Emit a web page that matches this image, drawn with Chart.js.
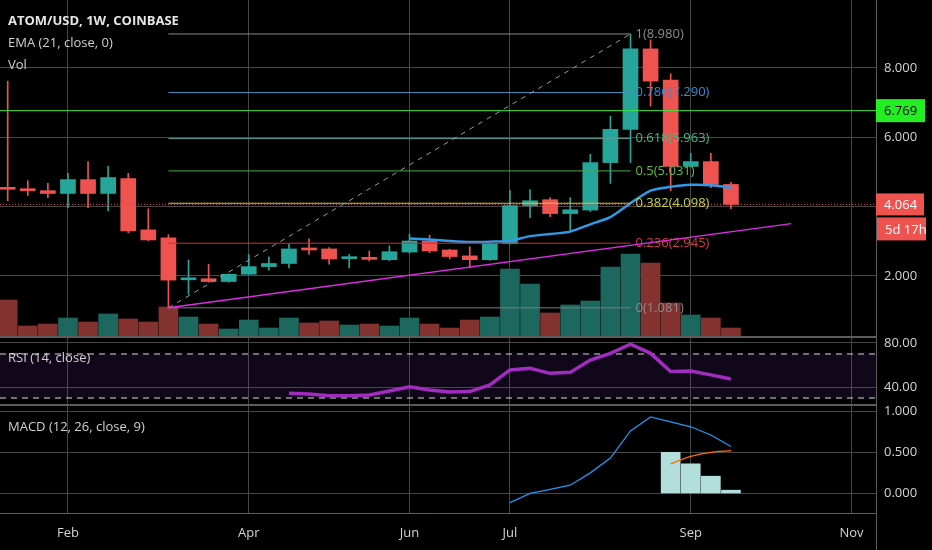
<!DOCTYPE html>
<html>
<head>
<meta charset="utf-8">
<script src="https://cdn.jsdelivr.net/npm/chart.js@4.4.1/dist/chart.umd.min.js"></script>
<style>
  html, body { margin: 0; background: #000; }
  body { width: 932px; height: 550px; position: relative; overflow: hidden; }
  .pane { position: absolute; left: 0; width: 932px; }
</style>
</head>
<body>
<div class="pane" style="top:0;height:337px"><canvas id="priceChart"></canvas></div>
<div class="pane" style="top:337px;height:68px"><canvas id="rsiChart"></canvas></div>
<div class="pane" style="top:405px;height:145px"><canvas id="macdChart"></canvas></div>
<script>
// weekly candles, index 0 = first week on screen
const open  = [4.55, 4.50, 4.46, 4.38, 4.78, 4.38, 4.81, 3.33, 3.10, 1.89, 1.92, 1.84, 2.05, 2.27, 2.36, 2.80, 2.78, 2.50, 2.53,
               2.47, 2.69, 3.01, 2.75, 2.58, 2.47, 2.93, 4.03, 4.20, 3.80, 3.90, 5.27, 6.23, 8.55, 7.65, 5.16, 5.30, 4.64];
const high  = [7.62, 4.75, 4.67, 4.96, 5.30, 5.16, 4.96, 3.94, 3.19, 2.46, 2.34, 2.06, 2.62, 2.55, 2.93, 3.07, 2.82, 2.62, 2.72,
               2.87, 3.21, 3.18, 2.77, 2.84, 2.95, 4.46, 4.49, 4.26, 4.26, 5.51, 6.61, 8.98, 8.81, 7.83, 5.54, 5.54, 4.70];
const low   = [4.17, 4.32, 4.26, 3.97, 3.97, 3.88, 3.25, 3.02, 1.081, 1.47, 1.82, 1.82, 2.04, 2.17, 2.23, 2.62, 2.34, 2.23, 2.43,
               2.44, 2.66, 2.67, 2.49, 2.23, 2.45, 2.92, 3.68, 3.71, 3.30, 3.86, 4.67, 5.27, 6.90, 4.46, 5.14, 4.55, 3.94];
const close = [4.50, 4.46, 4.38, 4.78, 4.38, 4.84, 3.30, 3.04, 1.88, 1.93, 1.84, 2.05, 2.27, 2.36, 2.78, 2.75, 2.49, 2.53, 2.48,
               2.70, 3.01, 2.72, 2.56, 2.47, 2.93, 4.03, 4.17, 3.80, 3.91, 5.27, 6.23, 8.55, 7.62, 5.16, 5.30, 4.64, 4.064];
// volume, relative units (no scale shown)
const volume = [370, 110, 130, 190, 150, 230, 180, 150, 300, 200, 130, 80, 170, 90, 190, 140, 160, 120, 130,
                110, 190, 130, 90, 170, 200, 680, 530, 240, 320, 360, 700, 830, 740, 340, 220, 190, 90];

const emaStart = 20;
const ema21 = [3.08, 3.05, 3.01, 2.98, 2.99, 3.01, 3.15, 3.21, 3.28, 3.49, 3.70, 4.10, 4.46, 4.57, 4.63, 4.62, 4.55];

const rsiStart = 14;
const rsi14 = [34.3, 33.6, 32.1, 32.0, 32.7, 36.4, 40.3, 37.3, 35.5, 35.8, 41.8, 55.5, 57.0, 52.4, 53.3, 64.5,
               70.6, 79.0, 70.6, 54.0, 54.5, 51.0, 47.3];

const macdStart = 25;
const macdLine = [-0.11, 0.00, 0.05, 0.10, 0.25, 0.43, 0.76, 0.93, 0.87, 0.81, 0.71, 0.57];
const signalStart = 33;
const signalLine = [0.36, 0.45, 0.50, 0.52];
const histStart = 33;
const histogram = [0.50, 0.36, 0.21, 0.04];

const monthTicks  = [3, 12, 20, 25, 34, 42];
const monthLabels = ['Feb', 'Apr', 'Jun', 'Jul', 'Sep', 'Nov'];

const priceTicks = [2, 4, 6, 8];
const rsiTicks = [40, 80];
const macdTicks = [0, 0.5, 1];

// fib retracement from the March low to the August high
const fibFrom = 8, fibTo = 31;
const fibLevels = ['0', '0.236', '0.382', '0.5', '0.618', '0.786', '1'];
const fibPrices = [1.081, 2.945, 4.098, 5.031, 5.963, 7.290, 8.980];
const trendFrom = [8, 1.081], trendTo = [39, 3.51];
const alertPrice = 6.769;
const lastPrice = 4.064;
const countdown = '5d 17h';

const UP = '#26a69a', DOWN = '#ef5350';
const GRID = '#464646', SEP = '#5c5c5c', TEXT = '#d4d4d4';
const FONT = "'Open Sans', 'Noto Sans', sans-serif";
const fibLineColors  = ['#7c7c7c', '#c83232', '#c8cc2a', '#46ad4a', '#5f9c98', '#4d8ec0', '#8a8a8a'];
const fibLabelColors = ['#8c8c8c', '#d93b3b', '#c4d43c', '#5cc040', '#3bbf8c', '#2f8ed8', '#8c8c8c'];

const X_MIN = -0.383, X_MAX = 43.22;
const isUp = close.map((c, i) => c >= open[i]);

function xScale(showLabels) {
  return {
    type: 'linear', min: X_MIN, max: X_MAX, offset: false,
    grid: { color: GRID, drawTicks: false, offset: false },
    border: { display: showLabels, color: SEP },
    ticks: {
      display: showLabels, color: TEXT, padding: 12, maxRotation: 0, autoSkip: false,
      font: { family: FONT, size: 13 },
      callback: v => monthLabels[monthTicks.indexOf(v)] || ''
    },
    afterBuildTicks: s => { s.ticks = monthTicks.map(v => ({ value: v })); },
    afterFit: s => { s.height = showLabels ? 37 : 0; s.paddingLeft = 0; s.paddingRight = 0; }
  };
}

function yScale(min, max, ticks, digits) {
  return {
    position: 'right', min, max,
    grid: { color: GRID, drawTicks: false },
    border: { color: SEP },
    ticks: { color: TEXT, padding: 8, font: { family: FONT, size: 13 }, callback: v => v.toFixed(digits) },
    afterBuildTicks: s => { s.ticks = ticks.map(v => ({ value: v })); },
    afterFit: s => { s.width = 56; s.paddingTop = 0; s.paddingBottom = 0; }
  };
}

const base = {
  responsive: true, maintainAspectRatio: false, animation: false, events: [],
  layout: { padding: 0 },
  plugins: { legend: { display: false }, tooltip: { enabled: false } }
};

function text(ctx, str, x, y, color, font, align) {
  ctx.fillStyle = color;
  ctx.font = font;
  ctx.textAlign = align || 'left';
  ctx.textBaseline = 'middle';
  ctx.fillText(str, x, y);
}

function seg(ctx, x1, y1, x2, y2, color, width, dash) {
  ctx.beginPath();
  ctx.strokeStyle = color;
  ctx.lineWidth = width;
  ctx.setLineDash(dash || []);
  ctx.moveTo(x1, y1);
  ctx.lineTo(x2, y2);
  ctx.stroke();
  ctx.setLineDash([]);
}

function axisBox(ctx, left, top, w, h, bg, fg, str) {
  ctx.fillStyle = bg;
  ctx.fillRect(left, top, w, h);
  text(ctx, str, left + 8, top + h / 2 + 1, fg, '13px ' + FONT);
}

const priceOverlay = {
  id: 'priceOverlay',
  afterDatasetsDraw(chart) {
    const { ctx, chartArea: a, scales: { x, y } } = chart;
    const px = v => x.getPixelForValue(v), py = v => y.getPixelForValue(v);
    ctx.save();
    ctx.beginPath();
    ctx.rect(a.left, a.top, a.width, a.height);
    ctx.clip();
    // alert line and last price line
    seg(ctx, a.left, py(alertPrice), a.right, py(alertPrice), '#3ce43c', 1);
    seg(ctx, a.left, py(lastPrice), a.right, py(lastPrice), '#e0504e', 1, [1, 2]);
    // fib retracement
    fibPrices.forEach((p, k) => {
      seg(ctx, px(fibFrom), py(p), px(fibTo), py(p), fibLineColors[k], 1);
      text(ctx, fibLevels[k] + '(' + p.toFixed(3) + ')', px(fibTo) + 5, py(p), fibLabelColors[k], '13px ' + FONT);
    });
    seg(ctx, px(fibFrom), py(fibPrices[0]), px(fibTo), py(fibPrices[6]), '#9a9a9a', 1, [5, 5]);
    // rising support
    seg(ctx, px(trendFrom[0]), py(trendFrom[1]), px(trendTo[0]), py(trendTo[1]), '#e02de6', 1.5);
    ctx.restore();
  },
  afterDraw(chart) {
    const { ctx, chartArea: a, scales: { y } } = chart;
    ctx.save();
    const ya = y.getPixelForValue(alertPrice), yl = y.getPixelForValue(lastPrice);
    axisBox(ctx, a.right, ya - 11.5, 49, 23, '#22ee22', '#000', alertPrice.toFixed(3));
    axisBox(ctx, a.right, yl - 11, 48, 22, '#ef5350', '#fff', lastPrice.toFixed(3));
    axisBox(ctx, a.right + 1, yl + 13, 49, 23, '#ef5350', '#fff', countdown);
    seg(ctx, a.left, a.bottom - 0.5, a.right, a.bottom - 0.5, SEP, 1);
    text(ctx, 'ATOM/USD, 1W, COINBASE', 8, 21, '#e6e6e6', 'bold 13px ' + FONT);
    text(ctx, 'EMA (21, close, 0)', 8, 43, '#d0d0d0', '13px ' + FONT);
    text(ctx, 'Vol', 8, 65, '#d0d0d0', '13px ' + FONT);
    ctx.restore();
  }
};

new Chart(document.getElementById('priceChart'), {
  data: {
    datasets: [
      {
        type: 'bar', yAxisID: 'yv', order: 10, grouped: false,
        data: volume.map((v, i) => ({ x: i, y: v })),
        backgroundColor: isUp.map(u => u ? '#1d685e' : '#843230'),
        barPercentage: 1, categoryPercentage: 1, maxBarThickness: 19
      },
      {
        type: 'bar', yAxisID: 'y', order: 5, grouped: false,
        data: low.map((l, i) => ({ x: i, y: [l, high[i]] })),
        backgroundColor: isUp.map(u => u ? UP : DOWN),
        barPercentage: 1, categoryPercentage: 1, maxBarThickness: 1
      },
      {
        type: 'bar', yAxisID: 'y', order: 4, grouped: false,
        data: open.map((o, i) => ({ x: i, y: [o, close[i]] })),
        backgroundColor: isUp.map(u => u ? UP : DOWN),
        barPercentage: 1, categoryPercentage: 1, maxBarThickness: 15, minBarLength: 2
      },
      {
        type: 'line', yAxisID: 'y', order: 1,
        data: ema21.map((v, i) => ({ x: emaStart + i, y: v })),
        borderColor: '#2f9be8', borderWidth: 2.5, pointRadius: 0, tension: 0.2
      }
    ]
  },
  options: {
    ...base,
    scales: {
      x: xScale(false),
      y: yScale(0.24, 9.96, priceTicks, 3),
      yv: { display: false, min: 0, max: 3370 }
    }
  },
  plugins: [priceOverlay]
});

const rsiOverlay = {
  id: 'rsiOverlay',
  beforeDatasetsDraw(chart) {
    const { ctx, chartArea: a, scales: { y } } = chart;
    ctx.save();
    const y70 = y.getPixelForValue(70), y30 = y.getPixelForValue(30);
    ctx.fillStyle = 'rgba(120, 50, 190, 0.14)';
    ctx.fillRect(a.left, y70, a.width, y30 - y70);
    seg(ctx, a.left, y70, a.right, y70, '#d8d8d8', 1, [6, 5]);
    seg(ctx, a.left, y30, a.right, y30, '#d8d8d8', 1, [6, 5]);
    ctx.restore();
  },
  afterDraw(chart) {
    const { ctx, chartArea: a } = chart;
    ctx.save();
    seg(ctx, a.left, 0.5, a.right, 0.5, SEP, 1);
    seg(ctx, a.left, a.bottom - 0.5, a.right, a.bottom - 0.5, SEP, 1);
    text(ctx, 'RSI (14, close)', 8, 21, '#d0d0d0', '13px ' + FONT);
    ctx.restore();
  }
};

new Chart(document.getElementById('rsiChart'), {
  type: 'line',
  data: {
    datasets: [{
      data: rsi14.map((v, i) => ({ x: rsiStart + i, y: v })),
      borderColor: '#a22cbf', borderWidth: 3.5, pointRadius: 0, tension: 0
    }]
  },
  options: {
    ...base,
    scales: { x: xScale(false), y: yScale(23.64, 85.45, rsiTicks, 2) }
  },
  plugins: [rsiOverlay]
});

const macdOverlay = {
  id: 'macdOverlay',
  afterDraw(chart) {
    const { ctx, chartArea: a } = chart;
    ctx.save();
    seg(ctx, a.left, 0.5, a.right, 0.5, SEP, 1);
    seg(ctx, a.right + 0.5, a.bottom, a.right + 0.5, chart.height, SEP, 1);
    text(ctx, 'MACD (12, 26, close, 9)', 8, 22, '#d0d0d0', '13px ' + FONT);
    ctx.restore();
  }
};

new Chart(document.getElementById('macdChart'), {
  data: {
    datasets: [
      {
        type: 'bar', order: 5, grouped: false,
        data: histogram.map((v, i) => ({ x: histStart + i, y: v })),
        backgroundColor: '#b2dfdb',
        barPercentage: 1, categoryPercentage: 1, maxBarThickness: 19
      },
      {
        type: 'line', order: 2,
        data: macdLine.map((v, i) => ({ x: macdStart + i, y: v })),
        borderColor: '#2196f3', borderWidth: 1.3, pointRadius: 0, tension: 0
      },
      {
        type: 'line', order: 1,
        data: signalLine.map((v, i) => ({ x: signalStart + i, y: v })),
        borderColor: '#ff6d00', borderWidth: 1.3, pointRadius: 0, tension: 0.3
      }
    ]
  },
  options: {
    ...base,
    scales: { x: xScale(true), y: yScale(-0.237, 1.074, macdTicks, 3) }
  },
  plugins: [macdOverlay]
});
</script>
</body>
</html>
